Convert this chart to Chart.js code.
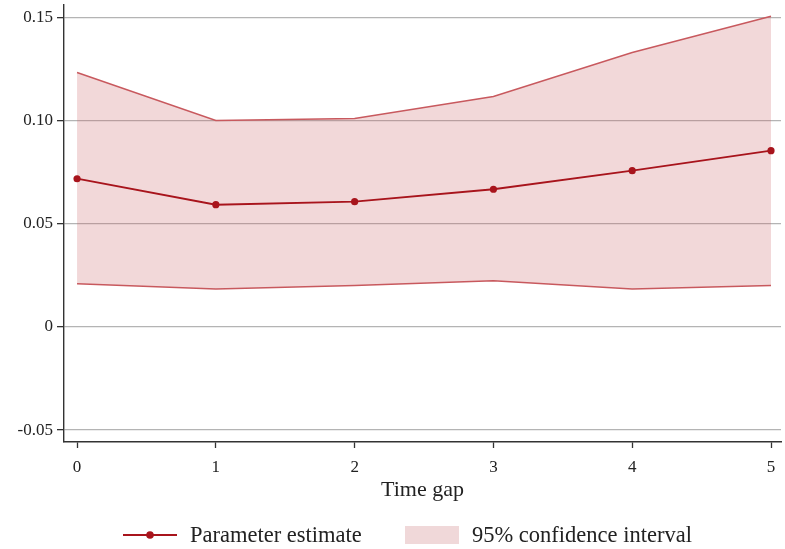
<!DOCTYPE html>
<html>
<head>
<meta charset="utf-8">
<script src="https://cdn.jsdelivr.net/npm/chart.js@4.4.1/dist/chart.umd.min.js"></script>
<style>
  html, body { margin: 0; padding: 0; background: #fff; }
  #wrap { width: 785px; height: 549px; }
</style>
</head>
<body>
<div id="wrap"><canvas id="chart"></canvas></div>
<script>
// data
const timeGap = [0, 1, 2, 3, 4, 5];
const estimate = [0.0718, 0.0592, 0.0607, 0.0667, 0.0757, 0.0854];
const upperCI = [0.1233, 0.1000, 0.1010, 0.1117, 0.1330, 0.1505];
const lowerCI = [0.0209, 0.0184, 0.0201, 0.0223, 0.0184, 0.0201];
const yTicks = [-0.05, 0, 0.05, 0.10, 0.15];
const yTickLabels = ["-0.05", "0", "0.05", "0.10", "0.15"];
const legendLabels = ["Parameter estimate", "95% confidence interval"];

const FONT = "'Liberation Serif', 'DejaVu Serif', serif";
const lineRed = "#a8141c";
const ciRed = "#c8595e";
const ciFill = "rgba(200, 90, 95, 0.24)";

const pts = (arr) => timeGap.map((x, i) => ({ x: x, y: arr[i] }));

// legend drawn under the axis title, stata style
const bottomLegend = {
	id: "bottomLegend",
	afterDraw(chart) {
		let ctx = chart.ctx;
		let y = 535;
		ctx.save();

		ctx.strokeStyle = lineRed;
		ctx.lineWidth = 1.8;
		ctx.beginPath();
		ctx.moveTo(123, y);
		ctx.lineTo(177, y);
		ctx.stroke();
		ctx.fillStyle = lineRed;
		ctx.beginPath();
		ctx.arc(150, y, 3.8, 0, Math.PI * 2);
		ctx.fill();

		ctx.fillStyle = "#f0d8d9";
		ctx.fillRect(405, 526, 54, 18);

		ctx.fillStyle = "#222";
		ctx.font = "22.5px " + FONT;
		ctx.textBaseline = "middle";
		ctx.textAlign = "left";
		ctx.fillText(legendLabels[0], 190, y + 1);
		ctx.fillText(legendLabels[1], 472, y + 1);
		ctx.restore();
	},
};

new Chart(document.getElementById("chart"), {
	type: "line",
	data: {
		datasets: [
			{
				label: "upper",
				data: pts(upperCI),
				borderColor: ciRed,
				borderWidth: 1.5,
				backgroundColor: ciFill,
				pointRadius: 0,
				fill: "+1",
				order: 2,
			},
			{
				label: "lower",
				data: pts(lowerCI),
				borderColor: ciRed,
				borderWidth: 1.5,
				pointRadius: 0,
				fill: false,
				order: 2,
			},
			{
				label: legendLabels[0],
				data: pts(estimate),
				borderColor: lineRed,
				backgroundColor: lineRed,
				borderWidth: 1.8,
				pointRadius: 3.6,
				pointBorderWidth: 0,
				fill: false,
				order: 1,
			},
		],
	},
	options: {
		responsive: true,
		maintainAspectRatio: false,
		animation: false,
		layout: { padding: { top: 5, right: 0, left: 0, bottom: 46 } },
		scales: {
			x: {
				type: "linear",
				min: -0.094,
				max: 5.072,
				afterBuildTicks: (s) => {
					s.ticks = timeGap.map((v) => ({ value: v }));
				},
				afterFit: (s) => {
					s.height = 61;
				},
				ticks: {
					color: "#222",
					font: { family: FONT, size: 17 },
					padding: 9,
					maxRotation: 0,
				},
				grid: {
					drawOnChartArea: false,
					drawTicks: true,
					tickLength: 6,
					tickColor: "#333",
					tickWidth: 1.3,
				},
				border: { color: "#333", width: 1.4 },
				title: {
					display: true,
					text: "Time gap",
					color: "#222",
					font: { family: FONT, size: 22 },
					padding: { top: 0, bottom: 0 },
				},
			},
			y: {
				type: "linear",
				min: -0.0558,
				max: 0.156,
				afterBuildTicks: (s) => {
					s.ticks = yTicks.map((v) => ({ value: v }));
				},
				afterFit: (s) => {
					s.width = 64;
					s.paddingTop = 0;
					s.paddingBottom = 0;
				},
				ticks: {
					color: "#222",
					font: { family: FONT, size: 17 },
					padding: 4,
					callback: (v) => {
						let i = yTicks.findIndex((t) => Math.abs(t - v) < 1e-9);
						return i >= 0 ? yTickLabels[i] : "";
					},
				},
				grid: {
					color: "#b4b4b4",
					lineWidth: 1.3,
					drawTicks: true,
					tickLength: 7,
					tickColor: "#333",
					tickWidth: 1.3,
				},
				border: { color: "#333", width: 1.4 },
			},
		},
		plugins: {
			tooltip: { enabled: false },
			legend: { display: false },
		},
	},
	plugins: [bottomLegend],
});
</script>
</body>
</html>
